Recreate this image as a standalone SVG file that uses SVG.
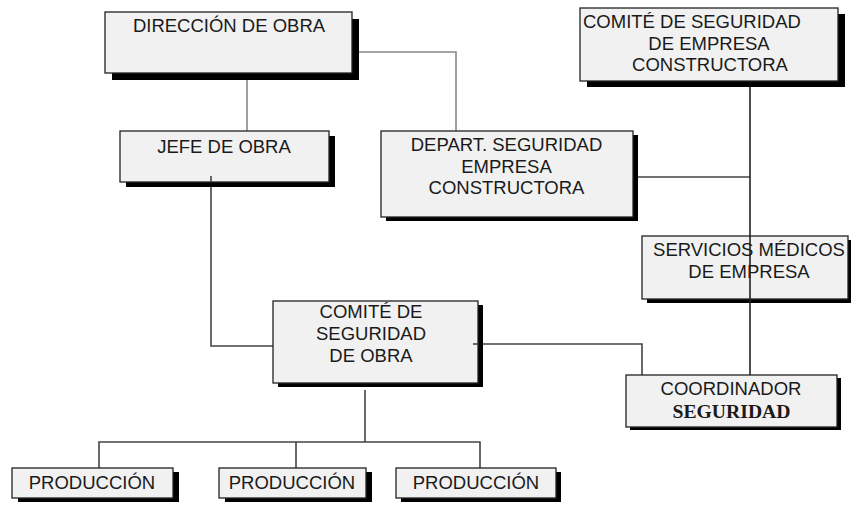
<svg xmlns="http://www.w3.org/2000/svg" width="851" height="507" viewBox="0 0 851 507">
<style>
.sh{fill:#000}
.bx{fill:#f1f1f1;stroke:#222;stroke-width:1.3}
.t{font-family:"Liberation Sans",Arial,sans-serif;font-size:18.5px;fill:#1a1a1a;text-anchor:middle}
.ts{font-family:"Liberation Serif","Times New Roman",serif;font-size:18px;font-weight:bold;fill:#1a1a1a;text-anchor:middle}
.c{fill:none;stroke:#444;stroke-width:1.6}
.cl{fill:none;stroke:#888;stroke-width:1.6}
</style>
<rect width="851" height="507" fill="#fff"/>
<g id="connectors-back">
<path class="cl" d="M247,79 V131"/>
<path class="cl" d="M359,52 H456 V131"/>
<path class="c" d="M638,177 H750"/>
<path class="c" d="M211,176 V346 H273"/>
<path class="c" d="M473,344 H642 V375"/>
<path class="c" d="M365,390 V442"/>
<path class="c" d="M99,468 V442 H480 V468"/>
<path class="c" d="M296,442 V468"/>
</g>
<g id="direccion">
<rect class="sh" x="112" y="19" width="247" height="61"/>
<rect class="bx" x="105" y="12" width="247" height="61"/>
<text class="t" x="229" y="32">DIRECCIÓN DE OBRA</text>
</g>
<g id="comite-empresa">
<rect class="sh" x="587" y="14" width="258" height="73"/>
<rect class="bx" x="580" y="8" width="258" height="73"/>
<text class="t" x="583" y="28" style="text-anchor:start">COMITÉ DE SEGURIDAD</text>
<text class="t" x="709" y="50">DE EMPRESA</text>
<text class="t" x="710" y="71">CONSTRUCTORA</text>
</g>
<g id="jefe">
<rect class="sh" x="126" y="136" width="209" height="51"/>
<rect class="bx" x="120" y="131" width="209" height="51"/>
<text class="t" x="224" y="153">JEFE DE OBRA</text>
</g>
<g id="depart">
<rect class="sh" x="386" y="135" width="252" height="86"/>
<rect class="bx" x="381" y="131" width="252" height="86"/>
<text class="t" x="506.5" y="151">DEPART. SEGURIDAD</text>
<text class="t" x="506.5" y="172.5">EMPRESA</text>
<text class="t" x="506.5" y="194">CONSTRUCTORA</text>
</g>
<g id="servicios">
<rect class="sh" x="647" y="240" width="206" height="63"/>
<rect class="bx" x="642" y="236" width="206" height="63"/>
<text class="t" x="749" y="256">SERVICIOS MÉDICOS</text>
<text class="t" x="749" y="278.3">DE EMPRESA</text>
</g>
<g id="comite-obra">
<rect class="sh" x="278" y="305" width="205" height="82"/>
<rect class="bx" x="273" y="301" width="205" height="82"/>
<text class="t" x="371" y="318">COMITÉ DE</text>
<text class="t" x="371" y="340">SEGURIDAD</text>
<text class="t" x="371" y="362">DE OBRA</text>
</g>
<g id="coordinador">
<rect class="sh" x="630" y="378" width="211" height="52"/>
<rect class="bx" x="626" y="375" width="211" height="52"/>
<text class="t" x="731" y="395">COORDINADOR</text>
<text class="ts" x="731.5" y="417.5" textLength="118" lengthAdjust="spacingAndGlyphs">SEGURIDAD</text>
</g>
<g id="produccion-1">
<rect class="sh" x="18" y="472" width="161" height="30"/>
<rect class="bx" x="12" y="468" width="161" height="30"/>
<text class="t" x="92" y="488.5">PRODUCCIÓN</text>
</g>
<g id="produccion-2">
<rect class="sh" x="225" y="472" width="147" height="30"/>
<rect class="bx" x="219" y="468" width="147" height="30"/>
<text class="t" x="292" y="488.5">PRODUCCIÓN</text>
</g>
<g id="produccion-3">
<rect class="sh" x="401" y="472" width="160" height="30"/>
<rect class="bx" x="396" y="468" width="160" height="30"/>
<text class="t" x="476" y="488.5">PRODUCCIÓN</text>
</g>
<g id="connectors-front">
<path class="c" d="M750,87 V375" style="stroke:#222"/>
<path class="c" d="M211,176 V182"/>
<path class="c" d="M473,344 H478"/>
</g>
</svg>
